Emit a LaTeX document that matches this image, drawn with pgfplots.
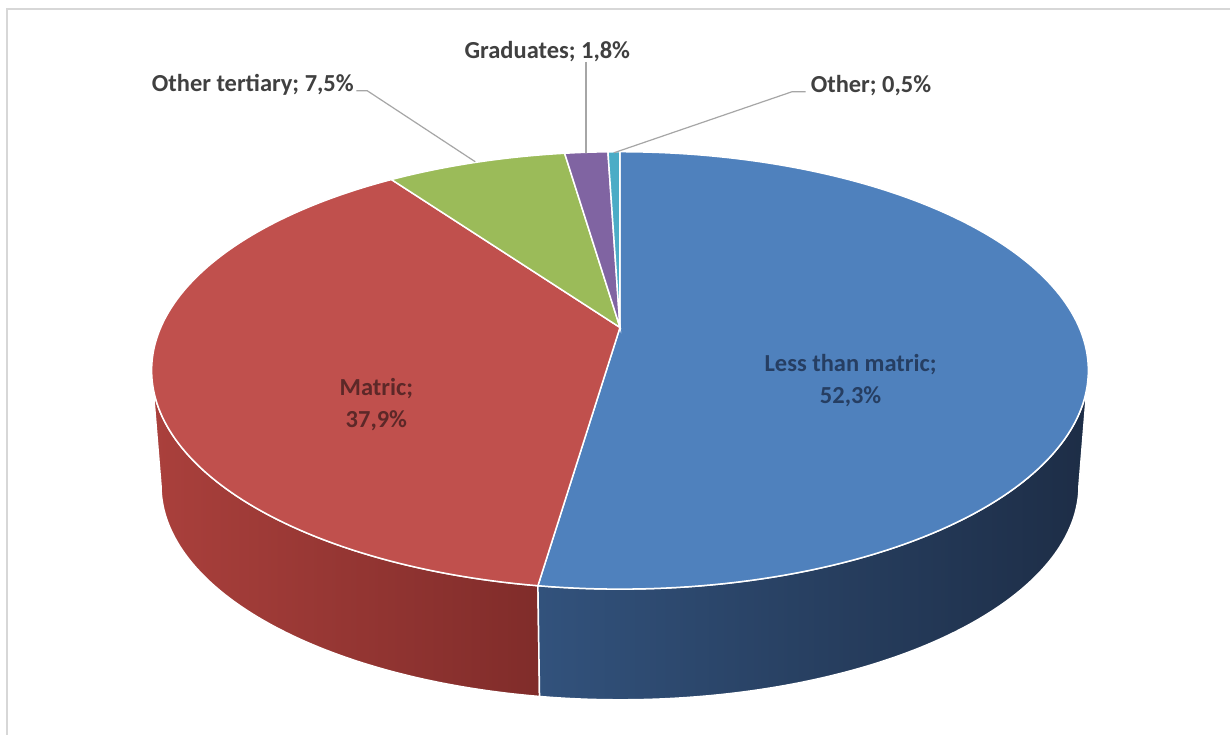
\documentclass[border=0pt]{standalone}
\usepackage{pgfplots}
\pgfplotsset{compat=1.18}
\usepackage{pgfplotstable}
\usepackage{fontspec}
\setmainfont{Carlito}
\definecolor{cBlue}{RGB}{79,129,189}
\definecolor{cRed}{RGB}{192,80,77}
\definecolor{cGreen}{RGB}{155,187,89}
\definecolor{cPurple}{RGB}{128,100,162}
\definecolor{cTeal}{RGB}{75,172,198}
\definecolor{sBlueL}{RGB}{50,82,124}
\definecolor{sBlueR}{RGB}{29,45,70}
\definecolor{sRedL}{RGB}{170,64,60}
\definecolor{sRedR}{RGB}{128,44,42}
\definecolor{cText}{RGB}{64,64,64}
\definecolor{cTextB}{RGB}{38,62,98}
\definecolor{cTextR}{RGB}{92,40,40}
\definecolor{cLeader}{RGB}{166,166,166}
\definecolor{cFrame}{RGB}{215,215,215}
\newcommand\lbl{\fontsize{12.25}{16.15}\selectfont\bfseries}

\pgfplotstableread{
label value
Lessthanmatric 52.3
Matric 37.9
Othertertiary 7.5
Graduates 1.8
Other 0.5
}\piedata

\begin{document}
\begin{tikzpicture}[declare function={
  pd(\t)=1+0.1964*cos(\t);
  px(\t)=621+460*sin(\t)/pd(\t);
  py(\t)=328-210.6*cos(\t)/pd(\t);
  bx(\t)=621+450.8*sin(\t)/pd(\t);
  by(\t)=444.1-206.4*cos(\t)/pd(\t);
}]
\pgfplotstablegetelem{0}{value}\of\piedata
\pgfmathsetmacro\eA{3.6*\pgfplotsretval}
\pgfplotstablegetelem{1}{value}\of\piedata
\pgfmathsetmacro\eB{\eA+3.6*\pgfplotsretval}
\pgfplotstablegetelem{2}{value}\of\piedata
\pgfmathsetmacro\eC{\eB+3.6*\pgfplotsretval}
\pgfplotstablegetelem{3}{value}\of\piedata
\pgfmathsetmacro\eD{\eC+3.6*\pgfplotsretval}
\pgfplotstablegetelem{4}{value}\of\piedata
\pgfmathsetmacro\eE{\eD+3.6*\pgfplotsretval}
\begin{axis}[
  width=615.5pt, height=367.5pt, scale only axis,
  xmin=0, xmax=1231, ymin=0, ymax=735, y dir=reverse,
  axis line style={draw=none}, ticks=none,
  axis background/.style={fill=white},
  clip=false,
]
% frame
\addplot[draw=cFrame, line width=1pt] coordinates {(7.5,736) (7.5,9) (1232,9)};
% side walls (top edge forward, bottom edge back)
\addplot[draw=white, line width=0.75pt, left color=sRedL, right color=sRedR,
  domain=0:2, samples=201, variable=\s]
  ({(\s<1.005) ? px(\eA+min(\s,1)*(258.67-\eA)) : bx(258.67-(\s-1.01)/0.99*(258.67-\eA))},
   {(\s<1.005) ? py(\eA+min(\s,1)*(258.67-\eA)) : by(258.67-(\s-1.01)/0.99*(258.67-\eA))}) -- cycle;
\addplot[draw=white, line width=0.75pt, left color=sBlueL, right color=sBlueR,
  domain=0:2, samples=201, variable=\s]
  ({(\s<1.005) ? px(101.33+min(\s,1)*(\eA-101.33)) : bx(\eA-(\s-1.01)/0.99*(\eA-101.33))},
   {(\s<1.005) ? py(101.33+min(\s,1)*(\eA-101.33)) : by(\eA-(\s-1.01)/0.99*(\eA-101.33))}) -- cycle;
% top face sectors
\addplot[fill=cBlue, draw=white, line width=0.75pt, domain=0:\eA, samples=150, variable=\t]
  ({px(\t)},{py(\t)}) -- (621,328) -- cycle;
\addplot[fill=cRed, draw=white, line width=0.75pt, domain=\eA:\eB, samples=120, variable=\t]
  ({px(\t)},{py(\t)}) -- (621,328) -- cycle;
\addplot[fill=cGreen, draw=white, line width=0.75pt, domain=\eB:\eC, samples=30, variable=\t]
  ({px(\t)},{py(\t)}) -- (621,328) -- cycle;
\addplot[fill=cPurple, draw=white, line width=0.75pt, domain=\eC:\eD, samples=10, variable=\t]
  ({px(\t)},{py(\t)}) -- (621,328) -- cycle;
\addplot[fill=cTeal, draw=white, line width=0.75pt, domain=\eD:\eE, samples=6, variable=\t]
  ({px(\t)},{py(\t)}) -- (621,328) -- cycle;
% leader lines
\addplot[draw=cLeader, line width=0.6pt] coordinates {(357,91) (368,91) (476,162)};
\addplot[draw=cLeader, line width=0.6pt] coordinates {(587,62) (587,153)};
\addplot[draw=cLeader, line width=0.6pt] coordinates {(807,92) (793,92) (615,153)};
% labels
\node[anchor=base west, inner sep=0pt, text=cText, font=\lbl] at (151.7,91.7) {Other tertiary; 7,5\%};
\node[anchor=base west, inner sep=0pt, text=cText, font=\lbl] at (465,58.3) {Graduates; 1,8\%};
\node[anchor=base west, inner sep=0pt, text=cText, font=\lbl] at (811.7,92.3) {Other; 0,5\%};
\node[align=center, text=cTextB, font=\lbl] at (852,381.5) {Less than matric;\\52,3\%};
\node[align=center, text=cTextR, font=\lbl] at (377,405) {Matric;\\37,9\%};
\end{axis}
\end{tikzpicture}
\end{document}
